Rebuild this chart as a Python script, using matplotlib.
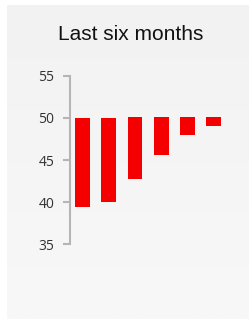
import numpy as np
import matplotlib.pyplot as plt

# data
months = ['M1', 'M2', 'M3', 'M4', 'M5', 'M6']
start = [50.0, 50.0, 50.1, 50.1, 50.1, 50.1]
end = [39.4, 40.0, 42.8, 45.6, 48.0, 49.0]
yticks = [35, 40, 45, 50, 55]

fig = plt.figure(figsize=(2.53, 3.2), dpi=100)
fig.patch.set_facecolor('white')

# grey gradient panel behind chart
bg = fig.add_axes([7/253, 1/320, 242/253, 314/320])
grad = np.linspace(0, 1, 256).reshape(-1, 1)
bg.imshow(grad, aspect='auto', cmap=plt.matplotlib.colors.LinearSegmentedColormap.from_list(
    'g', ['#f2f2f2', '#f8f8f8']), extent=[0, 1, 0, 1])
bg.axis('off')

ax = fig.add_axes([69.7/253, 1 - 244.3/320, 156.8/253, 168.6/320])
ax.patch.set_alpha(0)
x = np.arange(len(months))
heights = [e - s for s, e in zip(start, end)]
ax.bar(x, heights, bottom=start, width=0.57, color='#f50000')

ax.set_xlim(-0.5, 5.5)
ax.set_ylim(35, 55)
ax.set_yticks(yticks)
ax.set_xticks([])
for s in ['top', 'right', 'bottom']:
    ax.spines[s].set_visible(False)
ax.spines['left'].set_color('#b5b5b5')
ax.spines['left'].set_linewidth(1.5)
ax.tick_params(axis='y', direction='out', length=5, width=1.5, color='#b5b5b5',
               labelsize=10, labelcolor='#333333', pad=6)
for lab in ax.get_yticklabels():
    lab.set_fontfamily('Open Sans')

fig.text(0.518, 1 - 35/320, 'Last six months', ha='center', va='center',
         fontsize=15, family='Liberation Sans', color='#111111')

plt.savefig('out.png', dpi=100)
